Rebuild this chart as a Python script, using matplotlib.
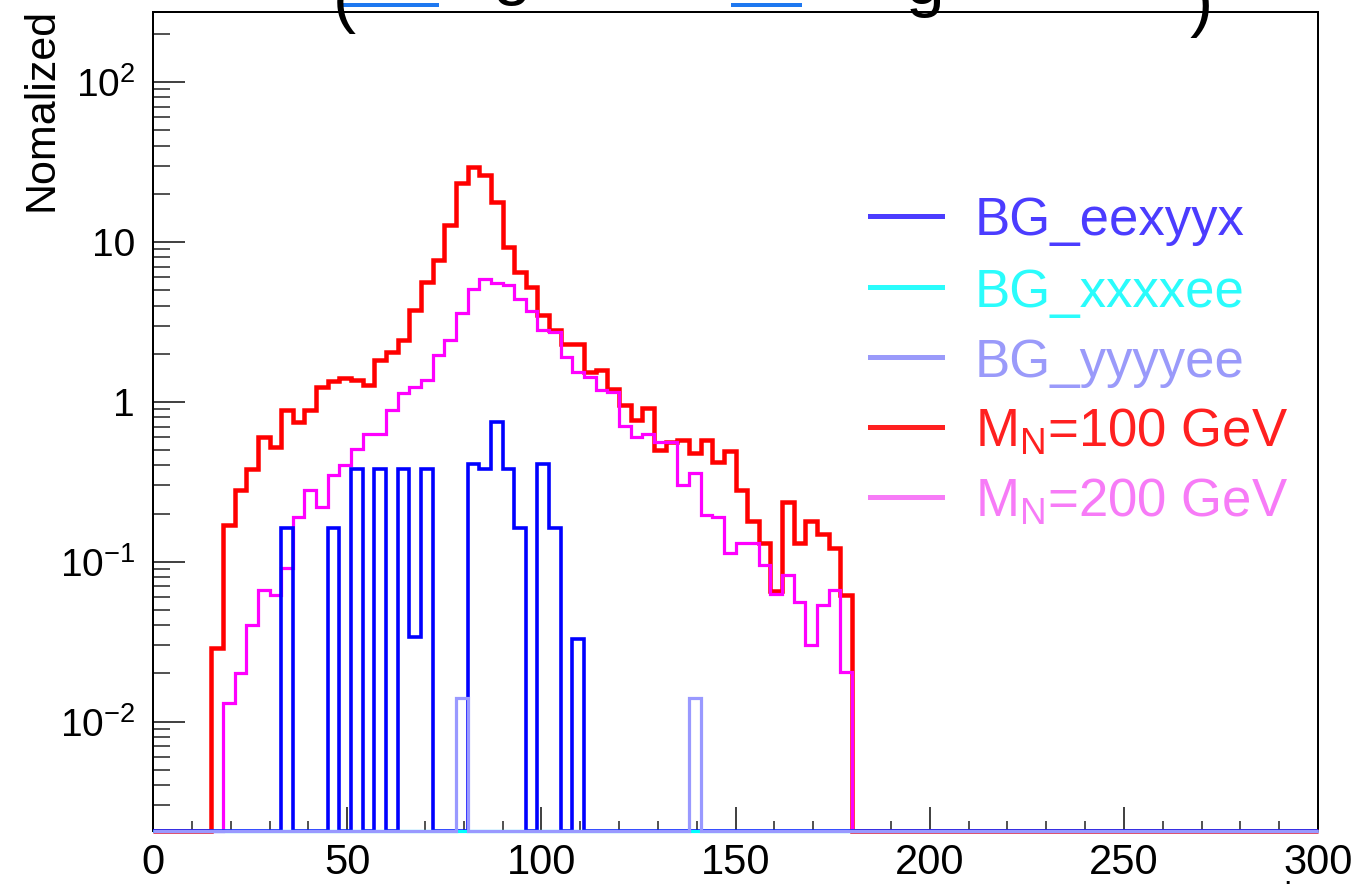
import numpy as np
import matplotlib
matplotlib.use('Agg')
import matplotlib.pyplot as plt
from matplotlib.lines import Line2D
from matplotlib.ticker import FixedLocator, NullFormatter, MultipleLocator

plt.rcParams['font.family'] = ['Liberation Sans', 'DejaVu Sans']
plt.rcParams['mathtext.fontset'] = 'custom'
plt.rcParams['mathtext.rm'] = 'Liberation Sans'
plt.rcParams['mathtext.it'] = 'Liberation Sans:italic'

# ---------------- data ----------------
bin_width = 3
x_min, x_max = 0, 300
y_min, y_max = 0.00207, 274

# M_N = 100 GeV (first bin starts at 15)
red_start = 15
red_values = [0.029, 0.17, 0.28, 0.38, 0.60, 0.52, 0.89, 0.75, 0.89, 1.23,
              1.35, 1.40, 1.37, 1.27, 1.82, 2.05, 2.43, 3.74, 5.6, 7.7,
              12.7, 23.2, 29.4, 26.1, 17.8, 9.3, 6.5, 5.2, 3.5, 2.8,
              2.3, 2.3, 1.54, 1.58, 1.21, 0.95, 0.77, 0.92, 0.50, 0.56,
              0.58, 0.48, 0.58, 0.42, 0.49, 0.28, 0.18, 0.13, 0.066, 0.237,
              0.13, 0.18, 0.149, 0.121, 0.062]

# M_N = 200 GeV (first bin starts at 18)
mag_start = 18
mag_values = [0.013, 0.020, 0.040, 0.067, 0.062, 0.092, 0.19, 0.28, 0.22, 0.35,
              0.40, 0.51, 0.63, 0.63, 0.89, 1.13, 1.24, 1.37, 1.96, 2.43,
              3.57, 5.1, 5.9, 5.5, 5.4, 4.4, 3.7, 2.8, 2.72, 1.91,
              1.54, 1.42, 1.18, 1.15, 0.71, 0.60, 0.63, 0.56, 0.56, 0.30,
              0.36, 0.196, 0.19, 0.113, 0.13, 0.13, 0.095, 0.063, 0.083, 0.056,
              0.030, 0.054, 0.067, 0.0205]

# backgrounds: lower bin edges and contents of non-empty bins
eexyyx_bins = [33, 45, 51, 57, 63, 66, 69, 81, 84, 87, 90, 93, 99, 102, 108]
eexyyx_values = [0.162, 0.162, 0.38, 0.38, 0.38, 0.0337, 0.38, 0.41, 0.378, 0.75,
                 0.38, 0.162, 0.41, 0.162, 0.033]
xxxxee_bins = []
xxxxee_values = []
yyyyee_bins = [78, 138]
yyyyee_values = [0.014, 0.014]

labels = ['BG_eexyyx', 'BG_xxxxee', 'BG_yyyyee',
          r'M$_{\mathrm{N}}$=100 GeV', r'M$_{\mathrm{N}}$=200 GeV']
line_colors = ['#0000ff', '#00ffff', '#9999ff', '#ff0000', '#ff00ff']
legend_colors = ['#4b3cff', '#2afcfc', '#9a9afa', '#ff2020', '#f77bf7']

y_tick_vals = [1e-2, 1e-1, 1, 10, 100]
y_tick_labels = [r'10$^{\mathrm{-2}}$', r'10$^{\mathrm{-1}}$', '1', '10', r'10$^{\mathrm{2}}$']
x_tick_vals = [0, 50, 100, 150, 200, 250, 300]
x_tick_labels = ['0', '50', '100', '150', '200', '250', '300']

# ---------------- build histograms ----------------
edges = np.arange(x_min, x_max + bin_width, bin_width)
n_bins = len(edges) - 1


def dense(bins, vals):
    h = np.full(n_bins, y_min)
    for b, v in zip(bins, vals):
        h[int(round(b / bin_width))] = v
    return h


h_red = dense([red_start + bin_width * i for i in range(len(red_values))], red_values)
h_mag = dense([mag_start + bin_width * i for i in range(len(mag_values))], mag_values)
h_eexyyx = dense(eexyyx_bins, eexyyx_values)
h_xxxxee = dense(xxxxee_bins, xxxxee_values)
h_yyyyee = dense(yyyyee_bins, yyyyee_values)

W, H = 1361, 892
fig = plt.figure(figsize=(W / 100, H / 100), dpi=100)
ax = fig.add_axes([153 / W, 1 - 831 / H, (1318 - 153) / W, (831 - 12) / H])
ax.set_yscale('log')
ax.set_xlim(x_min, x_max)
ax.set_ylim(y_min, y_max)

px = 0.72
ax.stairs(h_red, edges, color=line_colors[3], lw=4.5 * px, baseline=None, clip_on=False, zorder=3)
ax.stairs(h_mag, edges, color=line_colors[4], lw=3.2 * px, baseline=None, clip_on=False, zorder=3)
ax.stairs(h_eexyyx, edges, color=line_colors[0], lw=3.6 * px, baseline=None, clip_on=False, zorder=3)
ax.stairs(h_xxxxee, edges, color=line_colors[1], lw=3.2 * px, baseline=None, clip_on=False, zorder=3)
ax.stairs(h_yyyyee, edges, color=line_colors[2], lw=3.2 * px, baseline=None, clip_on=False, zorder=3)

for s in ax.spines.values():
    s.set_linewidth(2.0 * px)
    s.set_color('black')

ax.yaxis.set_major_locator(FixedLocator(y_tick_vals))
ax.set_yticklabels(y_tick_labels)
minors = [m * 10.0 ** e for e in range(-3, 3) for m in range(2, 10)]
ax.yaxis.set_minor_locator(FixedLocator(minors))
ax.yaxis.set_minor_formatter(NullFormatter())
ax.xaxis.set_major_locator(FixedLocator(x_tick_vals))
ax.set_xticklabels(x_tick_labels)
ax.xaxis.set_minor_locator(MultipleLocator(10))

ax.tick_params(axis='y', which='major', direction='in', length=32 * px, width=2 * px,
               color='#444444', labelsize=28, pad=13, right=False)
ax.tick_params(axis='y', which='minor', direction='in', length=17 * px, width=2 * px,
               color='#555555', right=False)
ax.tick_params(axis='x', which='major', direction='in', length=24 * px, width=2 * px,
               color='#444444', labelsize=30, pad=9, top=False)
ax.tick_params(axis='x', which='minor', direction='in', length=10 * px, width=2 * px,
               color='#555555', top=False)

fig.text(42 / W, 1 - 8 / H, 'Nomalized', rotation=90, ha='center', va='top', fontsize=31)

# legend drawn manually (no frame)
row_y = [216, 287, 357, 427, 497]
for lab, lc, yy in zip(labels, legend_colors, row_y):
    fy = 1 - yy / H
    fig.add_artist(Line2D([870 / W, 942 / W], [fy, fy], color=lc, lw=5 * px))
    fig.text(975 / W, fy, lab, color=lc, fontsize=38, va='center_baseline', ha='left')

# clipped remains of a title above the frame
for ch, xp, yp in [('(', 333, 20), ('g', 492, -8), ('g', 905, 4), (')', 1190, 24)]:
    fig.text(xp / W, 1 - yp / H, ch, fontsize=50, va='baseline', ha='left', color='black')
for x0, x1 in [(343, 437), (733, 800)]:
    fig.add_artist(Line2D([x0 / W, x1 / W], [1 - 5 / H, 1 - 5 / H], color='#1e78f0', lw=4 * px))

fig.text(1283 / W, 1 - 884 / H, '.', fontsize=22, ha='left', va='baseline')

fig.savefig('out.png', dpi=100)
